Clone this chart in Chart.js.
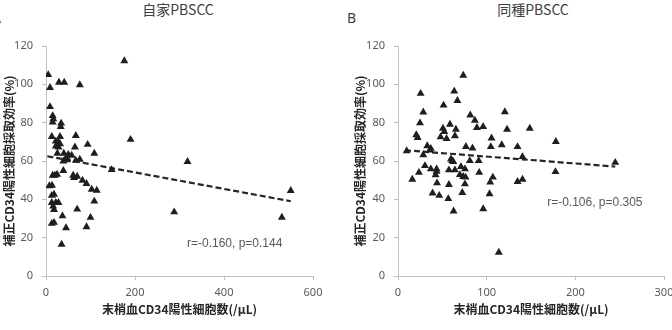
<!DOCTYPE html>
<html><head><meta charset="utf-8">
<script src="https://cdn.jsdelivr.net/npm/chart.js@4.4.1/dist/chart.umd.min.js"></script>
<style>
html,body{margin:0;padding:0;width:672px;height:330px;overflow:hidden;background:#fff;}
.box{position:absolute;top:0;height:330px;overflow:hidden;}
.lbl{position:absolute;white-space:nowrap;color:#404040;}
.ttl{font-family:"Noto Sans CJK JP","Noto Sans",sans-serif;font-size:14px;transform:translateX(-50%);line-height:1;}
.ab{font-family:"Noto Sans",sans-serif;font-size:14px;line-height:1;}
</style></head>
<body>
<div class="lbl ab" style="left:-8px;top:11px;">A</div>
<div class="lbl ab" style="left:347px;top:11px;">B</div>
<div class="lbl ttl" style="left:178px;top:2px;">自家PBSCC</div>
<div class="lbl ttl" style="left:533px;top:2px;">同種PBSCC</div>
<div class="box" style="left:0;width:336px;"><canvas id="cA" width="336" height="330"></canvas></div>
<div class="box" style="left:336px;width:336px;"><canvas id="cB" width="372" height="330"></canvas></div>
<script>
// ---- data ----
const yTicks = [0, 20, 40, 60, 80, 100, 120];
const xTicksA = [0, 200, 400, 600];
const xTicksB = [0, 100, 200, 300];

const autoX = [5, 9, 29, 41, 76, 176, 9, 15, 16.5, 15, 34, 33, 13, 31.5, 67, 22, 28, 31.5, 22, 28, 65, 93.6, 108.5, 190,
  25.5, 40, 50, 57.7, 46.5, 39, 46.5, 67, 76, 147.6, 39, 15, 20, 25, 61, 63, 70, 82, 91, 13.5, 7.5,
  102.7, 114, 13, 18, 108.5, 13, 22, 28, 16, 18, 70, 37, 100, 13, 18, 45, 91, 35, 318, 288, 550, 530];
const autoY = [105, 98.3, 101, 101, 99.7, 112.2, 88.3, 83.6, 81.9, 80.2, 79.7, 77.9, 72.7, 72.7, 73.2, 70.3, 69.8, 68.9, 67.7, 67.2, 67.2, 68.6, 64, 71.2,
  64, 64, 63.4, 62.9, 62, 59.9, 60.6, 60.3, 60.8, 55.4, 55, 52.5, 52.5, 53, 52.5, 51.3, 52, 49.9, 48.2, 47.3, 47,
  45.2, 44.7, 42, 42.6, 39, 38.3, 38.3, 38.3, 36.4, 34.6, 34.8, 31.3, 30.5, 27.4, 27.9, 25.1, 25.6, 16.5, 59.7, 33.4, 44.5, 30.6];
const autoTrendX = [3, 550];
const autoTrendY = [62.5, 39];

const alloX = [73.6, 25.5, 63.4, 67, 51.4, 28.5, 81.5, 86.7, 24.8, 58.6, 50.7, 52.2, 65.3, 89, 96, 20.6, 22.2, 64.2, 48, 54.8, 105.5,
  120.5, 123, 148.6, 33, 37, 36, 76.6, 84, 104.7, 117, 9.8, 28.5, 59.7, 61.2, 62.3, 81, 91, 30.4, 37, 43.5, 43.5, 57.4, 64.2,
  71, 75.5, 23.6, 42.4, 69.8, 73.5, 76.2, 91.6, 107, 16.1, 44, 57.4, 75.5, 104, 39, 46.5, 56.7, 72.5, 103.2, 62.7, 96.1, 113.7,
  134.8, 178, 140.4, 245, 177.6, 134.8, 140.4];
const alloY = [104.7, 95.2, 96.4, 91.5, 89.1, 85.5, 83.9, 81.2, 79.8, 79.1, 77, 75.3, 76.5, 77.4, 77.9, 73.6, 72.2, 73.1, 72.5, 71.7, 71.9,
  85.6, 76.5, 77, 67.9, 66.5, 65.6, 67.5, 66.7, 67.4, 68.4, 65.3, 63.2, 61, 60.1, 59.7, 60.1, 60.1, 57.5, 55.8, 55.8, 54.6, 55.3, 55.3,
  57, 55.8, 54, 52.7, 52.8, 51.8, 51.5, 54, 51.5, 50.4, 48.5, 47.7, 48, 48.9, 43.2, 42, 40.3, 43.5, 42.8, 33.8, 35, 12.3,
  67.4, 70.1, 62.2, 59.2, 54.4, 49.2, 50.4];
const alloTrendX = [8, 245];
const alloTrendY = [65.6, 57.1];

const statA = {text: 'r=-0.160, p=0.144', x: 424, y: 16.6};
const statB = {text: 'r=-0.106, p=0.305', x: 222, y: 38.3};

const yTitle = '補正CD34陽性細胞採取効率(%)';
const xTitle = '末梢血CD34陽性細胞数(/μL)';

// ---- helpers ----
const pts = (xs, ys) => xs.map((x, i) => ({x, y: ys[i]}));
const tickFont = {family: '"Noto Sans", sans-serif', size: 11};
const axisTitleFont = {family: '"Noto Sans CJK JP", sans-serif', size: 12, weight: 'bold'};

const statPlugin = {
  id: 'stat',
  afterDatasetsDraw(chart, args, opts) {
    const {ctx, scales} = chart;
    ctx.save();
    ctx.font = '12px "Liberation Sans", Arial, sans-serif';
    ctx.fillStyle = '#595959';
    ctx.textAlign = 'center';
    ctx.textBaseline = 'middle';
    ctx.fillText(opts.text, scales.x.getPixelForValue(opts.x), scales.y.getPixelForValue(opts.y));
    ctx.restore();
  }
};

function makeChart(id, xs, ys, tx, ty, xTicks, stat, yw, padRight, yTitlePad) {
  return new Chart(document.getElementById(id), {
    type: 'scatter',
    data: {
      datasets: [
        {data: pts(xs, ys), pointStyle: 'triangle', pointRadius: 4.6, backgroundColor: '#1e1e1e', borderColor: '#1e1e1e', borderWidth: 0},
        {type: 'line', data: pts(tx, ty), borderColor: '#262626', borderWidth: 2.2, borderDash: [6, 3], pointRadius: 0, fill: false, tension: 0}
      ]
    },
    plugins: [statPlugin],
    options: {
      responsive: false, animation: false, devicePixelRatio: 1,
      layout: {padding: {left: 0, top: 46, right: padRight, bottom: 0}},
      plugins: {legend: {display: false}, tooltip: {enabled: false}, stat: stat},
      scales: {
        x: {
          type: 'linear', min: xTicks[0], max: xTicks[xTicks.length - 1],
          afterBuildTicks: s => { s.ticks = xTicks.map(v => ({value: v})); },
          afterFit: s => { s.height = 54; },
          ticks: {font: tickFont, color: '#595959', padding: 6, maxRotation: 0},
          grid: {display: true, drawOnChartArea: false, drawTicks: true, tickLength: 4, color: '#bfbfbf', lineWidth: 1},
          border: {display: true, color: '#bfbfbf', width: 1},
          title: {display: true, text: xTitle, font: axisTitleFont, color: '#262626', padding: {top: 0, bottom: 13}}
        },
        y: {
          type: 'linear', min: yTicks[0], max: yTicks[yTicks.length - 1],
          afterBuildTicks: s => { s.ticks = yTicks.map(v => ({value: v})); },
          afterFit: s => { s.width = yw; },
          ticks: {font: tickFont, color: '#595959', padding: 9},
          grid: {display: true, drawOnChartArea: false, drawTicks: true, tickLength: 4, color: '#bfbfbf', lineWidth: 1},
          border: {display: true, color: '#bfbfbf', width: 1},
          title: {display: true, text: yTitle, font: axisTitleFont, color: '#262626', padding: {top: yTitlePad, bottom: 0}}
        }
      }
    }
  });
}

makeChart('cA', autoX, autoY, autoTrendX, autoTrendY, xTicksA, statA, 46, 23, 2);
makeChart('cB', alloX, alloY, alloTrendX, alloTrendY, xTicksB, statB, 62, 44, 17);
</script>
</body></html>
